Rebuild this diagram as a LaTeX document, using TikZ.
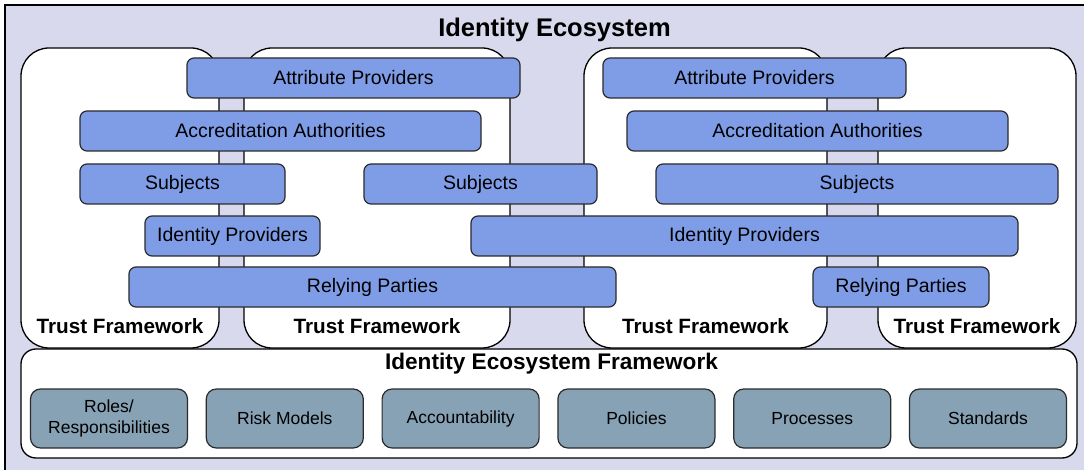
\documentclass[tikz,border=0pt]{standalone}
\usepackage{fontspec}
\setmainfont{Liberation Sans}

\definecolor{ecobg}{HTML}{D9D9ED}
\definecolor{roleblue}{HTML}{7F9DE7}
\definecolor{partgray}{HTML}{87A1B5}
\definecolor{boxline}{HTML}{2B2B2B}

\tikzset{
	rolebox/.style={draw=boxline, line width=1.2pt, fill=roleblue, rounded corners=7pt,
		minimum height=40pt, inner sep=0pt, font=\fontsize{19.5}{22}\selectfont},
	partbox/.style={draw=boxline, line width=1.2pt, fill=partgray, rounded corners=10pt,
		minimum width=157pt, minimum height=59pt, inner sep=0pt, align=center,
		font=\fontsize{17.5}{21}\selectfont},
	trustframe/.style={draw=black, line width=1.3pt, fill=white, rounded corners=28pt},
	framelabel/.style={anchor=base, inner sep=0pt, font=\bfseries\fontsize{20.7}{24}\selectfont},
}

\begin{document}
\begin{tikzpicture}[x=1pt, y=-1pt]
	
	\useasboundingbox (0,0) rectangle (1084,470);
	
	\fill [ecobg] (5,5) rectangle (1084,470);
	\draw [line width=2.2pt] (5,470) -- (5,5) -- (1084,5);
	
	\node [anchor=base, inner sep=0pt, font=\bfseries\fontsize{25.5}{28}\selectfont] (title) at (554.5,37) {Identity Ecosystem};
	
	% trust frameworks
	\draw [trustframe] (21,48) rectangle (219,348);
	\draw [trustframe] (244,48) rectangle (510,348);
	\draw [trustframe] (584,48) rectangle (827,348);
	\draw [trustframe] (878,48) rectangle (1076,348);
	
	\node [framelabel] (tf1) at (120,333) {Trust Framework};
	\node [framelabel] (tf2) at (377,333) {Trust Framework};
	\node [framelabel] (tf3) at (705.5,333) {Trust Framework};
	\node [framelabel] (tf4) at (977,333) {Trust Framework};
	
	% roles
	\node [rolebox, minimum width=333pt] (ap1) at (353.5,78) {Attribute Providers};
	\node [rolebox, minimum width=303pt] (ap2) at (754.5,78) {Attribute Providers};
	
	\node [rolebox, minimum width=401pt] (aa1) at (280.5,131) {Accreditation Authorities};
	\node [rolebox, minimum width=381pt] (aa2) at (817.5,131) {Accreditation Authorities};
	
	\node [rolebox, minimum width=205pt] (sub1) at (182.5,184) {Subjects};
	\node [rolebox, minimum width=233pt] (sub2) at (480.5,184) {Subjects};
	\node [rolebox, minimum width=402pt] (sub3) at (857,184) {Subjects};
	
	\node [rolebox, minimum width=175pt] (idp1) at (232.5,236) {Identity Providers};
	\node [rolebox, minimum width=547pt] (idp2) at (744.5,236) {Identity Providers};
	
	\node [rolebox, minimum width=487pt] (rp1) at (372.5,287) {Relying Parties};
	\node [rolebox, minimum width=176pt] (rp2) at (901,287) {Relying Parties};
	
	% identity ecosystem framework
	\draw [draw=black, line width=1.3pt, fill=white, rounded corners=15pt] (21,349) rectangle (1077,458);
	
	\node [anchor=base, inner sep=0pt, font=\bfseries\fontsize{22.6}{26}\selectfont] (ief) at (551.5,369) {Identity Ecosystem Framework};
	
	\node [partbox] (roles) at (109,418.5) {Roles/\\Responsibilities};
	\node [partbox] (risk) at (284.8,418.5) {Risk Models};
	\node [partbox] (acc) at (460.6,418.5) {Accountability};
	\node [partbox] (pol) at (636.4,418.5) {Policies};
	\node [partbox] (proc) at (812.2,418.5) {Processes};
	\node [partbox] (std) at (988,418.5) {Standards};
	
\end{tikzpicture}
\end{document}
